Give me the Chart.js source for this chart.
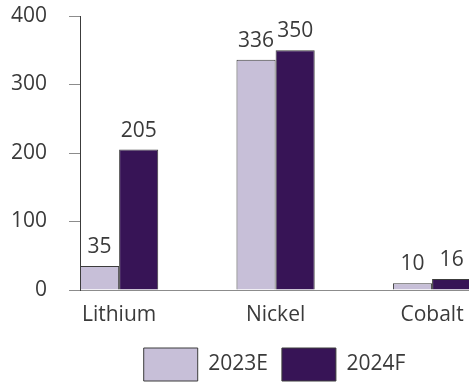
<!DOCTYPE html>
<html>
<head>
<meta charset="utf-8">
<script src="https://cdn.jsdelivr.net/npm/chart.js@4.4.1/dist/chart.umd.min.js"></script>
<style>
  html, body { margin: 0; padding: 0; background: #fff; }
  #wrap { width: 469px; height: 386px; }
</style>
</head>
<body>
<div id="wrap"><canvas id="c" width="469" height="386"></canvas></div>
<script>
const categories = ['Lithium', 'Nickel', 'Cobalt'];
const seriesNames = ['2023E', '2024F'];
const values2023E = [35, 336, 10];
const values2024F = [205, 350, 16];
const yTicks = [0, 100, 200, 300, 400];

const FONT = "'Open Sans', sans-serif";
const TEXT = '#3a3a3a';

const valueLabels = {
  id: 'valueLabels',
  afterDatasetsDraw(chart) {
    const ctx = chart.ctx;
    ctx.save();
    ctx.font = '21px ' + FONT;
    ctx.fillStyle = TEXT;
    ctx.textAlign = 'center';
    ctx.textBaseline = 'alphabetic';
    chart.data.datasets.forEach((ds, di) => {
      const meta = chart.getDatasetMeta(di);
      meta.data.forEach((el, i) => {
        ctx.fillText(String(ds.data[i].y), el.x, el.y - 13);
      });
    });
    ctx.restore();
  }
};

const toPoints = arr => arr.map((v, i) => ({ x: i, y: v }));

new Chart(document.getElementById('c'), {
  type: 'bar',
  data: {
    datasets: [
      { label: seriesNames[0], data: toPoints(values2023E), backgroundColor: '#c7bfd8', borderColor: '#3c3c3c', borderWidth: 1, categoryPercentage: 0.5, barPercentage: 1.0 },
      { label: seriesNames[1], data: toPoints(values2024F), backgroundColor: '#371456', borderColor: '#3c3c3c', borderWidth: 1, categoryPercentage: 0.5, barPercentage: 1.0 }
    ]
  },
  options: {
    responsive: false,
    animation: false,
    layout: { padding: { top: 0, right: 0, bottom: -5, left: 0 } },
    plugins: {
      legend: {
        position: 'bottom',
        fullSize: false,
        labels: {
          boxWidth: 54, boxHeight: 33, padding: 14,
          color: TEXT, font: { family: FONT, size: 21 }
        }
      },
      tooltip: { enabled: false }
    },
    scales: {
      x: {
        type: 'linear',
        offset: false,
        bounds: 'data',
        afterDataLimits: s => { s.min = -0.25; s.max = 2.236; },
        afterBuildTicks: s => {
          s.ticks = categories.map((c, i) => ({ value: i }));
          s.min = -0.25; s.max = 2.236;
        },
        afterFit: s => { s.height = 44; s.paddingLeft = 0; s.paddingRight = 0; },
        grid: { display: false, drawTicks: false, offset: false },
        border: { display: true, color: '#8c8c8c', width: 1 },
        ticks: {
          padding: 12,
          color: TEXT,
          font: { family: FONT, size: 21 },
          maxRotation: 0,
          autoSkip: false,
          callback: v => (categories[v] !== undefined ? categories[v] : '')
        }
      },
      y: {
        min: 0,
        max: 400,
        afterBuildTicks: s => { s.ticks = yTicks.map(v => ({ value: v })); },
        afterFit: s => { s.width = 80; s.paddingTop = 16; s.paddingBottom = 0; },
        grid: { drawOnChartArea: false, drawTicks: true, tickLength: 11, color: '#8c8c8c' },
        border: { display: true, color: '#3c3c3c', width: 1 },
        ticks: {
          padding: 22,
          color: TEXT,
          font: { family: FONT, size: 21 }
        }
      }
    }
  },
  plugins: [valueLabels]
});
</script>
</body>
</html>
